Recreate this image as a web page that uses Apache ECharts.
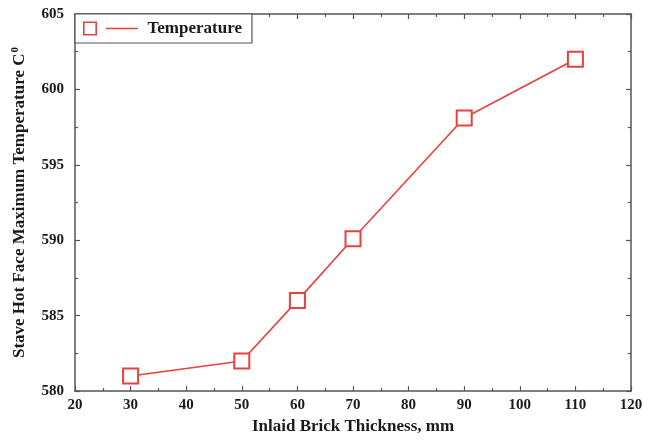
<!DOCTYPE html>
<html>
<head>
<meta charset="utf-8">
<script src="https://cdn.jsdelivr.net/npm/echarts@6/dist/echarts.min.js"></script>
<style>
  html, body { margin: 0; padding: 0; background: #fff; }
  #chart { width: 651px; height: 440px; }
</style>
</head>
<body>
<div id="chart"></div>
<script>
// Inlaid brick thickness (mm) vs. stave hot-face maximum temperature
var thickness = [30, 50, 60, 70, 90, 110];
var temperature = [581, 582, 586, 590.1, 598.1, 602];
var seriesName = 'Temperature';

var FONT = '"Liberation Serif", "Times New Roman", serif';
var AXIS_COLOR = '#555';
var TEXT_COLOR = '#1a1a1a';
var LINE_COLOR = '#e8403d';

// legend icon: hollow square followed by a short line segment
var legendIcon = 'path://M0,0 L14,0 L14,14 L0,14 Z M1.6,1.6 L1.6,12.4 L12.4,12.4 L12.4,1.6 Z M23,6.25 L55,6.25 L55,7.75 L23,7.75 Z';

function axisBase(extra) {
  var base = {
    type: 'value',
    axisLine: { show: true, lineStyle: { color: AXIS_COLOR, width: 1.5 } },
    axisTick: { show: true, inside: true, length: 5, lineStyle: { color: AXIS_COLOR, width: 1.2 } },
    minorTick: { show: true, splitNumber: 2, length: 3, lineStyle: { color: AXIS_COLOR, width: 1.2 } },
    splitLine: { show: false },
    axisLabel: { show: true, color: TEXT_COLOR, fontFamily: FONT, fontWeight: 'bold', fontSize: 15 }
  };
  for (var k in extra) base[k] = extra[k];
  return base;
}

var chart = echarts.init(document.getElementById('chart'), null, { renderer: 'canvas' });
chart.setOption({
  animation: false,
  backgroundColor: '#fff',
  grid: { left: 75, right: 20, top: 14, bottom: 43 },
  legend: {
    left: 75,
    top: 14,
    orient: 'horizontal',
    backgroundColor: '#fff',
    borderColor: AXIS_COLOR,
    borderWidth: 1.2,
    borderRadius: 0,
    padding: [6, 10, 6, 8],
    itemWidth: 56,
    itemHeight: 14,
    itemGap: 8,
    textStyle: { fontFamily: FONT, fontWeight: 'bold', fontSize: 17, color: TEXT_COLOR, padding: [0, 0, 0, 4] },
    data: [{ name: seriesName, icon: legendIcon, itemStyle: { color: LINE_COLOR, borderWidth: 0 } }]
  },
  xAxis: [
    axisBase({
      min: 20, max: 120, interval: 10,
      name: 'Inlaid Brick Thickness, mm',
      nameLocation: 'middle',
      nameGap: 23,
      nameTextStyle: { fontFamily: FONT, fontWeight: 'bold', fontSize: 17, color: TEXT_COLOR },
      axisLabel: { color: TEXT_COLOR, fontFamily: FONT, fontWeight: 'bold', fontSize: 15, margin: 7 }
    }),
    axisBase({
      position: 'top', min: 20, max: 120, interval: 10,
      axisLabel: { show: false }
    })
  ],
  yAxis: [
    axisBase({
      min: 580, max: 605, interval: 5,
      name: '{t|Stave Hot Face Maximum Temperature C}{s|0}',
      nameLocation: 'middle',
      nameGap: 44,
      nameTextStyle: {
        fontFamily: FONT, fontWeight: 'bold', fontSize: 17, color: TEXT_COLOR,
        rich: {
          t: { fontFamily: FONT, fontWeight: 'bold', fontSize: 17, color: TEXT_COLOR, lineHeight: 20 },
          s: { fontFamily: FONT, fontWeight: 'bold', fontSize: 11, color: TEXT_COLOR, lineHeight: 20, padding: [0, 0, 10, 1] }
        }
      },
      axisLabel: { color: TEXT_COLOR, fontFamily: FONT, fontWeight: 'bold', fontSize: 15, margin: 11 }
    }),
    axisBase({
      position: 'right', min: 580, max: 605, interval: 5,
      axisLabel: { show: false }
    })
  ],
  series: [{
    name: seriesName,
    type: 'line',
    xAxisIndex: 0,
    yAxisIndex: 0,
    data: thickness.map(function (x, i) { return [x, temperature[i]]; }),
    symbol: 'emptyRect',
    symbolSize: 15,
    showAllSymbol: true,
    lineStyle: { color: LINE_COLOR, width: 1.6 },
    itemStyle: { color: LINE_COLOR, borderColor: LINE_COLOR, borderWidth: 1.6 },
    z: 3
  }]
});
</script>
</body>
</html>
